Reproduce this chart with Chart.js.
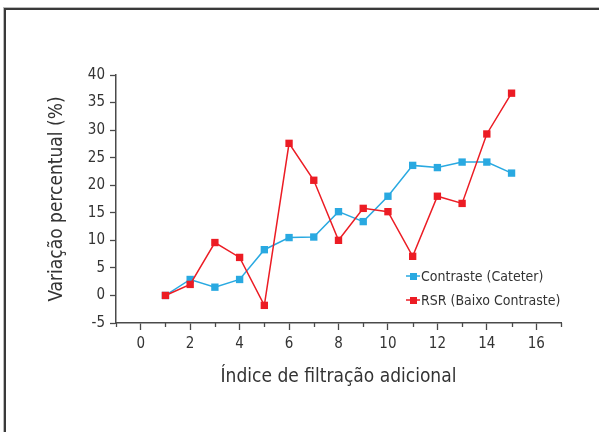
<!DOCTYPE html>
<html>
<head>
<meta charset="utf-8">
<script src="https://cdn.jsdelivr.net/npm/chart.js@4"></script>
<style>
  html, body { margin: 0; padding: 0; background: #fff; }
  #wrap { position: relative; width: 599px; height: 432px; overflow: hidden; }
  #frame { position: absolute; left: 4px; top: 8px; width: 620px; height: 460px;
           border-left: 2px solid #3a3a3a; border-top: 2px solid #3a3a3a;
           box-shadow: -1px -1px 0 #bbb; }
  canvas { position: absolute; left: 0; top: 0; }
</style>
</head>
<body>
<div id="wrap">
  <div id="frame"></div>
  <canvas id="chart" width="599" height="432"></canvas>
</div>
<script>
// index values along the x axis
var indices = [1, 2, 3, 4, 5, 6, 7, 8, 9, 10, 11, 12, 13, 14, 15];
// Contraste (Cateter)
var contraste = [0, 2.9, 1.5, 2.9, 8.3, 10.5, 10.6, 15.2, 13.4, 18.0, 23.6, 23.2, 24.2, 24.2, 22.2];
// RSR (Baixo Contraste)
var rsr = [0, 2.0, 9.6, 6.9, -1.8, 27.6, 20.9, 10.0, 15.8, 15.2, 7.1, 18.0, 16.7, 29.3, 36.7];
var xTicks = [-1, 0, 1, 2, 3, 4, 5, 6, 7, 8, 9, 10, 11, 12, 13, 14, 15, 16, 17];
var seriesNames = ['Contraste (Cateter)', 'RSR (Baixo Contraste)'];

var blue = '#29a9e1';
var red = '#ec1c24';
var axisColor = '#4a4a4a';
var textColor = '#333333';
var fontFam = '"Liberation Sans Narrow", "DejaVu Sans Condensed", "Roboto Condensed", Arial, sans-serif';

function $each(arr, fn) { for (var i = 0; i < arr.length; i++) fn(i, arr[i]); }
function toPoints(vals) {
    var pts = [];
    $each(vals, function (i, v) { pts.push({ x: indices[i], y: v }); });
    return pts;
}

// minor ticks at odd values on the x axis, shorter than the major ones
var minorTicks = {
    id: 'minorTicks',
    afterDraw: function (chart) {
        var ctx = chart.ctx;
        var xs = chart.scales.x;
        var y0 = xs.top;
        ctx.save();
        ctx.strokeStyle = axisColor;
        ctx.lineWidth = 1.3;
        $each(xTicks, function (i, v) {
            if (Math.abs(v % 2) === 1) {
                var px = Math.round(xs.getPixelForValue(v)) + 0.5;
                ctx.beginPath();
                ctx.moveTo(px, y0);
                ctx.lineTo(px, y0 + 4);
                ctx.stroke();
            }
        });
        ctx.restore();
    }
};

// legend drawn inside the plot, lower right
var innerLegend = {
    id: 'innerLegend',
    afterDraw: function (chart) {
        var ctx = chart.ctx;
        var x = 406, y = 276;
        ctx.save();
        ctx.font = '14px ' + fontFam;
        ctx.textBaseline = 'middle';
        $each(chart.data.datasets, function (i, ds) {
            var yy = y + i * 24;
            ctx.strokeStyle = ds.borderColor;
            ctx.lineWidth = 1.5;
            ctx.beginPath();
            ctx.moveTo(x, yy);
            ctx.lineTo(x + 14, yy);
            ctx.stroke();
            ctx.fillStyle = ds.backgroundColor;
            ctx.fillRect(x + 4, yy - 3, 7, 7);
            ctx.fillStyle = textColor;
            ctx.fillText(ds.label, x + 15, yy + 1);
        });
        ctx.restore();
    }
};

var ctx = document.getElementById('chart').getContext('2d');
var chart = new Chart(ctx, {
    type: 'line',
    data: {
        datasets: [{
            label: seriesNames[0],
            data: toPoints(contraste),
            order: 1,
            borderColor: blue,
            backgroundColor: blue,
            borderWidth: 1.5,
            pointStyle: 'rect',
            pointRadius: 5.2,
            pointBorderWidth: 0
        }, {
            label: seriesNames[1],
            data: toPoints(rsr),
            order: 0,
            borderColor: red,
            backgroundColor: red,
            borderWidth: 1.5,
            pointStyle: 'rect',
            pointRadius: 5.2,
            pointBorderWidth: 0
        }]
    },
    options: {
        responsive: false,
        animation: false,
        layout: { padding: { left: 0, top: 75, right: 38, bottom: 0 } },
        plugins: { legend: { display: false }, tooltip: { enabled: false } },
        scales: {
            x: {
                type: 'linear',
                min: -1,
                max: 17,
                afterBuildTicks: function (scale) {
                    scale.ticks = xTicks.map(function (v) { return { value: v }; });
                },
                afterFit: function (scale) { scale.height = 109; },
                ticks: {
                    autoSkip: false,
                    maxRotation: 0,
                    color: textColor,
                    padding: 5,
                    font: { family: fontFam, size: 15 },
                    callback: function (v) { return (v % 2 === 0) ? String(v) : ''; }
                },
                grid: {
                    drawOnChartArea: false,
                    tickLength: 7,
                    tickWidth: 1.3,
                    tickColor: function (c) {
                        return (c.tick && Math.abs(c.tick.value % 2) === 1) ? 'rgba(0,0,0,0)' : axisColor;
                    }
                },
                border: { color: axisColor, width: 1.5 },
                title: {
                    display: true,
                    text: 'Índice de filtração adicional',
                    color: textColor,
                    font: { family: fontFam, size: 19 },
                    padding: { top: 4, bottom: 44 }
                }
            },
            y: {
                min: -5,
                max: 40,
                afterFit: function (scale) { scale.width = 116; },
                ticks: {
                    stepSize: 5,
                    color: textColor,
                    padding: 5,
                    font: { family: fontFam, size: 15 }
                },
                grid: {
                    drawOnChartArea: false,
                    tickLength: 6,
                    tickWidth: 1.3,
                    tickColor: axisColor
                },
                border: { color: axisColor, width: 1.5 },
                title: {
                    display: true,
                    text: 'Variação percentual (%)',
                    color: textColor,
                    font: { family: fontFam, size: 19 },
                    padding: { top: 46, bottom: 0 }
                }
            }
        }
    },
    plugins: [minorTicks, innerLegend]
});
</script>
</body>
</html>
